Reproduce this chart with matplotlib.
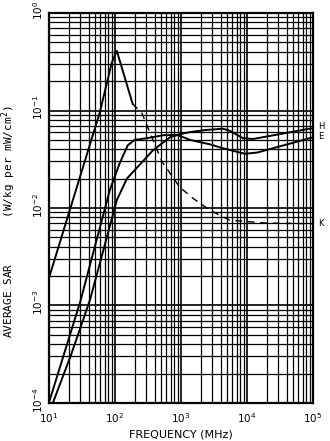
import numpy as np
import matplotlib.pyplot as plt
import matplotlib.transforms as mtransforms
from matplotlib.ticker import LogLocator, NullFormatter

# Curves (frequency in MHz, SAR in W/kg per mW/cm^2)
# peaked curve (solid part) then dashed tail ending at K
peak_f = [10, 59, 90, 107, 186]
peak_sar = [0.0019, 0.095, 0.31, 0.41, 0.117]

k_f = [186, 257, 516, 960, 1520, 2750, 5500, 20000, 100000]
k_sar = [0.117, 0.094, 0.030, 0.0164, 0.0126, 0.0095, 0.0075, 0.0070, 0.0069]

# hump curve which becomes E
e_f = [10, 30, 84, 119, 157, 200, 305, 570, 902, 1370, 2750, 4330, 9340,
       14200, 100000]
e_sar = [0.0001, 0.00110, 0.0153, 0.029, 0.044, 0.050, 0.052, 0.056, 0.056,
         0.050, 0.045, 0.041, 0.036, 0.037, 0.053]

# slower rising curve which becomes H
h_f = [11.5, 22, 42, 107, 152, 377, 680, 966, 1370, 2310, 4330, 5520, 8720,
       12400, 100000]
h_sar = [0.0001, 0.00032, 0.00114, 0.012, 0.020, 0.039, 0.053, 0.057, 0.060,
         0.063, 0.065, 0.062, 0.052, 0.051, 0.066]

labels = ['H', 'E', 'K']
label_sar = [0.068, 0.054, 0.0070]

y_ticks = [1e-4, 1e-3, 1e-2, 1e-1, 1]
y_ticklabels = ['$10^{-4}$', '$10^{-3}$', '$10^{-2}$', '$10^{-1}$', '$10^{0}$']

fig = plt.figure(figsize=(3.3, 4.41), dpi=100)
ax = fig.add_axes([0.148, 0.0862, 0.8, 0.8843])

ax.set_xscale('log')
ax.set_yscale('log')
ax.set_xlim(10, 1e5)
ax.set_ylim(1e-4, 1)

# graph-paper grid
ax.xaxis.set_minor_locator(LogLocator(base=10, subs=np.arange(2, 10)))
ax.yaxis.set_minor_locator(LogLocator(base=10, subs=np.arange(2, 10)))
ax.xaxis.set_minor_formatter(NullFormatter())
ax.yaxis.set_minor_formatter(NullFormatter())
ax.grid(True, which='major', color='black', linewidth=1.2)
ax.grid(True, which='minor', color='black', linewidth=0.9)
ax.tick_params(which='both', length=0)
for s in ax.spines.values():
    s.set_linewidth(1.6)

ax.plot(peak_f, peak_sar, color='black', lw=1.4)
ax.plot(k_f, k_sar, color='black', lw=1.0, dashes=(5, 4))
ax.plot(e_f, e_sar, color='black', lw=1.4)
ax.plot(h_f, h_sar, color='black', lw=1.4)

for lab, v in zip(labels, label_sar):
    ax.text(1.2e5, v, lab, fontsize=6, va='center', ha='left')

# rotated y tick labels, nudged up a little like the original
ax.set_yticks(y_ticks)
ax.set_yticklabels([])
ytr = mtransforms.offset_copy(ax.get_yaxis_transform(), fig, x=0, y=3,
                              units='dots')
for v, lab in zip(y_ticks, y_ticklabels):
    ax.text(-0.042, v, lab, transform=ytr, rotation=90, fontsize=7.5,
            ha='center', va='center')

ax.tick_params(axis='x', labelsize=7.5, pad=6)

ax.set_xlabel('FREQUENCY (MHz)', fontsize=8, labelpad=3)
ax.set_ylabel('AVERAGE SAR       (W/kg per mW/cm$^2$)', fontsize=8,
              family='DejaVu Sans Mono')
ax.yaxis.set_label_coords(-0.118, 0.465)

plt.savefig('out.png', dpi=100)
